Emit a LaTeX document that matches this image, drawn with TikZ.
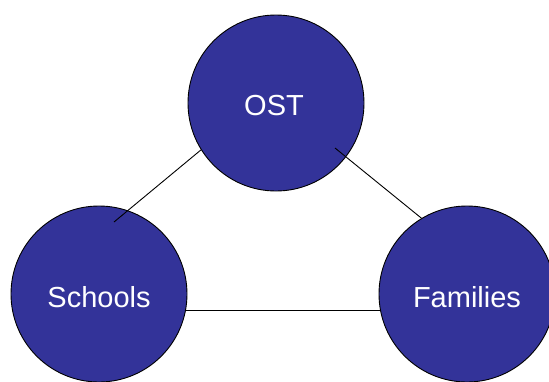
\documentclass[tikz,border=0pt]{standalone}
\usepackage{fontspec}
\setmainfont{Liberation Sans}
\usetikzlibrary{calc}
\definecolor{circblue}{RGB}{51,51,153}
\tikzset{
  circ/.style={circle, draw=black, line width=0.9pt, fill=circblue, minimum size=176pt, inner sep=0pt},
  lbl/.style={text=white, anchor=base, inner sep=0pt, font=\fontsize{29}{29}\selectfont},
  conn/.style={draw=black, line width=0.9pt}
}
\begin{document}
\begin{tikzpicture}[x=1pt,y=-1pt]
\useasboundingbox (0,0) rectangle (549,381);
\begin{scope}
\clip (0,0) rectangle (549,381);
\node[circ] (ost) at (276,103) {};
\node[circ] (schools) at (99,294) {};
\node[circ] (families) at (467,294) {};
\node[lbl] (ostt) at (274,115) {OST};
\node[lbl] (schoolst) at (99,307) {Schools};
\node[lbl] (familiest) at (467,307) {Families};
\coordinate (sin) at ($(schools.center)+(15,-72)$);
\coordinate (oin) at ($(ost.center)+(59,45)$);
\draw[conn] (ost.212) -- (sin);
\draw[conn] (oin) -- (families.121);
\draw[conn] (schools.-11) -- (families.191);
\end{scope}
\end{tikzpicture}
\end{document}
